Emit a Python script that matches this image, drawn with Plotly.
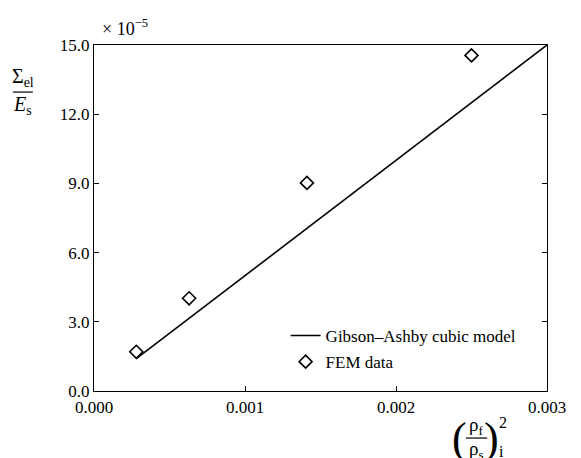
import plotly.graph_objects as go

# Data (y in units of 1e-5)
fem_x = [0.00028, 0.00063, 0.00141, 0.0025]
fem_y = [1.70, 4.02, 9.02, 14.55]
model_x = [0.00028, 0.003]
model_y = [1.40, 15.0]
x_ticks = [0.000, 0.001, 0.002, 0.003]
x_ticklabels = ["0.000", "0.001", "0.002", "0.003"]
y_ticks = [0.0, 3.0, 6.0, 9.0, 12.0, 15.0]
y_ticklabels = ["0.0", "3.0", "6.0", "9.0", "12.0", "15.0"]

FONT = "Times New Roman, Liberation Serif, Noto Serif, DejaVu Serif, serif"

fig = go.Figure()
fig.add_trace(go.Scatter(
    x=model_x, y=model_y, mode="lines", name="Gibson\u2013Ashby cubic model",
    line=dict(color="black", width=1.6), legendgroup="a"))
fig.add_trace(go.Scatter(
    x=fem_x, y=fem_y, mode="markers", name="FEM data",
    marker=dict(symbol="diamond-open", size=10, color="black", line=dict(width=1.6)),
    legendgroup="b"))

# page body has an 8px margin, so the figure is sized to fit the window
fig.update_layout(
    width=573, height=450,
    margin=dict(l=86, r=34, t=37, b=67),
    paper_bgcolor="white", plot_bgcolor="white",
    font=dict(family=FONT, size=17, color="black"),
    showlegend=True,
    legend=dict(x=0.423, y=0.211, xanchor="left", yanchor="top",
                bgcolor="rgba(0,0,0,0)", font=dict(size=17, family=FONT),
                traceorder="grouped", tracegroupgap=1),
    xaxis=dict(range=[0, 0.003], tickvals=x_ticks, ticktext=x_ticklabels,
               ticks="inside", ticklen=5, tickwidth=1, tickcolor="black",
               showline=True, linecolor="black", linewidth=1.2, mirror=True,
               showgrid=False, zeroline=False),
    yaxis=dict(range=[0, 15], tickvals=y_ticks, ticktext=y_ticklabels,
               ticks="inside", ticklen=5, tickwidth=1, tickcolor="black",
               showline=True, linecolor="black", linewidth=1.2, mirror="ticks",
               showgrid=False, zeroline=False),
)

ann = []
# exponent label
ann.append(dict(xref="paper", yref="paper", x=0.013, y=1.0, xanchor="left", yanchor="bottom",
                yshift=4, text="\u00d7 10<sup>\u22125</sup>", showarrow=False,
                font=dict(size=18, family=FONT)))
# y-axis title: Sigma_el / E_s
YT = 0.864
ann.append(dict(xref="paper", yref="paper", x=-0.157, y=YT, xanchor="center", yanchor="bottom",
                text="\u03a3<sub>el</sub>", showarrow=False, font=dict(size=20, family=FONT)))
ann.append(dict(xref="paper", yref="paper", x=-0.157, y=YT, xanchor="center", yanchor="top",
                yshift=1, text="<i>E</i><sub>s</sub>", showarrow=False, font=dict(size=20, family=FONT)))
# x-axis title: (rho_f / rho_s)_i^2
XT = -0.136
XC = 0.844
ann.append(dict(xref="paper", yref="paper", x=XC, y=XT, xanchor="center", yanchor="bottom",
                yshift=-2, text="\u03c1<sub>f</sub>", showarrow=False, font=dict(size=19, family=FONT)))
ann.append(dict(xref="paper", yref="paper", x=XC, y=XT, xanchor="center", yanchor="top",
                yshift=2, text="\u03c1<sub>s</sub>", showarrow=False, font=dict(size=19, family=FONT)))
ann.append(dict(xref="paper", yref="paper", x=0.806, y=XT, xanchor="center", yanchor="middle",
                text="(", showarrow=False, font=dict(size=44, family=FONT)))
ann.append(dict(xref="paper", yref="paper", x=0.878, y=XT, xanchor="center", yanchor="middle",
                text=")", showarrow=False, font=dict(size=44, family=FONT)))
ann.append(dict(xref="paper", yref="paper", x=0.890, y=-0.090, xanchor="left", yanchor="middle",
                text="2", showarrow=False, font=dict(size=16, family=FONT)))
ann.append(dict(xref="paper", yref="paper", x=0.890, y=-0.176, xanchor="left", yanchor="middle",
                text="i", showarrow=False, font=dict(size=16, family=FONT)))
fig.update_layout(annotations=ann)

shapes = [
    dict(type="line", xref="paper", yref="paper", x0=-0.179, x1=-0.135, y0=YT, y1=YT,
         line=dict(color="black", width=1.2)),
    dict(type="line", xref="paper", yref="paper", x0=0.821, x1=0.868, y0=XT, y1=XT,
         line=dict(color="black", width=1.2)),
]
fig.update_layout(shapes=shapes)

fig.write_html("out.html")
